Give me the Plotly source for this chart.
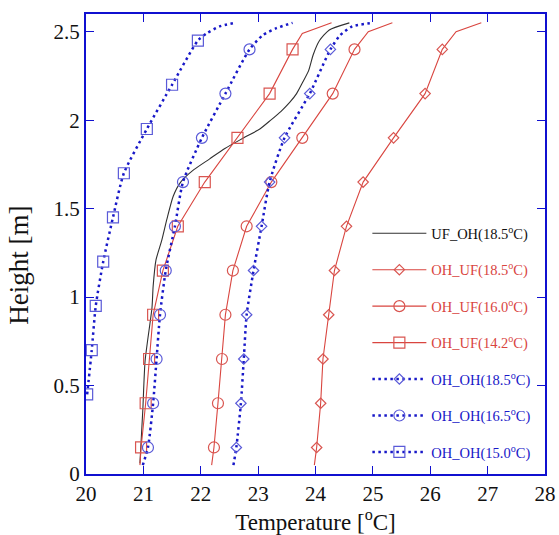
import plotly.graph_objects as go

# ---------------- data ----------------
marker_h = [0.15, 0.40, 0.65, 0.90, 1.15, 1.40, 1.65, 1.90, 2.15, 2.40]
marker_h_150 = [0.45, 0.70, 0.95, 1.20, 1.45, 1.70, 1.95, 2.20, 2.45]

# UF_OH(18.5) - black solid line, no markers
uf_oh_185_T = [20.94, 20.99, 21.03, 21.15, 21.17, 21.22, 21.32, 21.41, 21.52, 21.65,
               21.88, 22.15, 22.42, 22.75, 23.03, 23.22, 23.40, 23.55, 23.67, 23.77,
               23.88, 23.96, 24.07, 24.24, 24.59]
uf_oh_185_h = [0.06, 0.36, 0.64, 0.94, 1.06, 1.21, 1.32, 1.44, 1.57, 1.65,
               1.72, 1.78, 1.84, 1.90, 1.95, 2.00, 2.05, 2.10, 2.15, 2.21,
               2.28, 2.37, 2.45, 2.51, 2.55]

# OH_UF(18.5) red diamonds
oh_uf_185_mk = [24.02, 24.09, 24.13, 24.23, 24.33, 24.54, 24.83, 25.36, 25.91, 26.21]
oh_uf_185_T = [23.98] + oh_uf_185_mk + [26.45, 26.89]
oh_uf_185_h = [0.05] + marker_h + [2.50, 2.55]

# OH_UF(16.0) red circles
oh_uf_160_mk = [22.23, 22.30, 22.37, 22.43, 22.56, 22.80, 23.23, 23.77, 24.30, 24.68]
oh_uf_160_T = [22.19] + oh_uf_160_mk + [24.92, 25.34]
oh_uf_160_h = [0.05] + marker_h + [2.50, 2.55]

# OH_UF(14.2) red squares
oh_uf_142_mk = [20.96, 21.04, 21.10, 21.17, 21.34, 21.60, 22.07, 22.64, 23.20, 23.60]
oh_uf_142_T = [20.94] + oh_uf_142_mk + [23.77, 24.28]
oh_uf_142_h = [0.05] + marker_h + [2.49, 2.55]

# OH_OH(18.5) blue diamonds
oh_oh_185_mk = [22.62, 22.70, 22.75, 22.80, 22.92, 23.06, 23.20, 23.46, 23.90, 24.26]
oh_oh_185_T = [22.57] + oh_oh_185_mk + [24.43, 24.64, 25.01]
oh_oh_185_h = [0.05] + marker_h + [2.48, 2.53, 2.55]

# OH_OH(16.5) blue circles
oh_oh_165_mk = [21.08, 21.17, 21.23, 21.29, 21.39, 21.55, 21.69, 22.02, 22.43, 22.85]
oh_oh_165_T = [20.99] + oh_oh_165_mk + [23.08, 23.32, 23.60]
oh_oh_165_h = [0.05] + marker_h + [2.48, 2.52, 2.55]

# OH_OH(15.0) blue squares
oh_oh_150_mk = [20.02, 20.10, 20.17, 20.30, 20.47, 20.66, 21.06, 21.50, 21.95]
oh_oh_150_T = oh_oh_150_mk + [22.10, 22.33, 22.59]
oh_oh_150_h = marker_h_150 + [2.49, 2.53, 2.55]

x_ticks = [20, 21, 22, 23, 24, 25, 26, 27, 28]
y_ticks = [0, 0.5, 1, 1.5, 2, 2.5]
y_tick_text = ["0", "0.5", "1", "1.5", "2", "2.5"]

# ---------------- style ----------------
FONT = "Times New Roman, Liberation Serif, DejaVu Serif, serif"
RED = "#d9453f"
RED_MK = "#d95550"
BLUE = "#1818c8"
BLUE_MK = "#5a5ad8"
BLACK = "#303030"
FRAME = "#1010d0"
DOT = "2.5px,3.5px"

fig = go.Figure()

series = [
    ("UF_OH(18.5<sup>o</sup>C)", uf_oh_185_T, uf_oh_185_h, None, None, None, BLACK, BLACK, "solid", 1.1, "#111111", "spline"),
    ("OH_UF(18.5<sup>o</sup>C)", oh_uf_185_T, oh_uf_185_h, oh_uf_185_mk, marker_h, "diamond-open", RED, RED_MK, "solid", 1.1, RED, "linear"),
    ("OH_UF(16.0<sup>o</sup>C)", oh_uf_160_T, oh_uf_160_h, oh_uf_160_mk, marker_h, "circle-open", RED, RED_MK, "solid", 1.1, RED, "linear"),
    ("OH_UF(14.2<sup>o</sup>C)", oh_uf_142_T, oh_uf_142_h, oh_uf_142_mk, marker_h, "square-open", RED, RED_MK, "solid", 1.1, RED, "linear"),
    ("OH_OH(18.5<sup>o</sup>C)", oh_oh_185_T, oh_oh_185_h, oh_oh_185_mk, marker_h, "diamond-open", BLUE, BLUE_MK, DOT, 2.5, BLUE, "spline"),
    ("OH_OH(16.5<sup>o</sup>C)", oh_oh_165_T, oh_oh_165_h, oh_oh_165_mk, marker_h, "circle-open", BLUE, BLUE_MK, DOT, 2.5, BLUE, "spline"),
    ("OH_OH(15.0<sup>o</sup>C)", oh_oh_150_T, oh_oh_150_h, oh_oh_150_mk, marker_h_150, "square-open", BLUE, BLUE_MK, DOT, 2.5, BLUE, "spline"),
]

sizes = {"diamond-open": 8, "circle-open": 11, "square-open": 11}

for i, (name, lt, lh, mt, mh, sym, col, mcol, dash, w, tcol, shape) in enumerate(series):
    grp = f"g{i}"
    fig.add_trace(go.Scatter(x=lt, y=lh, mode="lines",
                             line=dict(color=col, width=w, dash=dash, shape=shape, smoothing=0.6),
                             showlegend=False, legendgroup=grp, hoverinfo="skip"))
    if mt is not None:
        fig.add_trace(go.Scatter(x=mt, y=mh, mode="markers",
                                 marker=dict(symbol=sym, size=sizes[sym], color=mcol, line=dict(color=mcol, width=1.2)),
                                 showlegend=False, legendgroup=grp))
        fig.add_trace(go.Scatter(x=[None], y=[None], mode="lines+markers",
                                 name=f'<span style="color:{tcol}">{name}</span>',
                                 line=dict(color=col, width=w, dash=dash),
                                 marker=dict(symbol=sym, size=sizes[sym], color=mcol, line=dict(color=mcol, width=1.2)),
                                 legendgroup=grp, showlegend=True))
    else:
        fig.add_trace(go.Scatter(x=[None], y=[None], mode="lines",
                                 name=f'<span style="color:{tcol}">{name}</span>',
                                 line=dict(color=col, width=w, dash=dash),
                                 legendgroup=grp, showlegend=True))

axis_common = dict(
    showgrid=False, zeroline=False, showline=True, linecolor=FRAME, linewidth=2,
    mirror="allticks", ticks="inside", ticklen=8, tickwidth=1.2, tickcolor=FRAME,
    tickfont=dict(family=FONT, size=21, color="#111111"), automargin=False,
)

fig.update_layout(
    width=559, height=535,
    margin=dict(l=86, r=14, t=14, b=61),
    plot_bgcolor="white", paper_bgcolor="white",
    font=dict(family=FONT, color="#111111", size=19),
    xaxis=dict(range=[20, 28], tickvals=x_ticks, ticktext=[str(v) for v in x_ticks],
               title=dict(text="Temperature [<sup>o</sup>C]", font=dict(family=FONT, size=23), standoff=0),
               **axis_common),
    yaxis=dict(range=[0, 2.6], tickvals=y_ticks, ticktext=y_tick_text, **axis_common),
    annotations=[dict(text="Height [m]", xref="paper", yref="paper", x=-0.146, y=0.455,
                      xanchor="center", yanchor="middle", textangle=-90, showarrow=False,
                      font=dict(family=FONT, size=27, color="#111111"))],
    legend=dict(x=0.613, y=0.558, xanchor="left", yanchor="top",
                font=dict(family=FONT, size=14.5),
                bgcolor="rgba(0,0,0,0)", borderwidth=0,
                tracegroupgap=14.6, itemwidth=54, traceorder="grouped"),
)

fig.write_html("out.html")
